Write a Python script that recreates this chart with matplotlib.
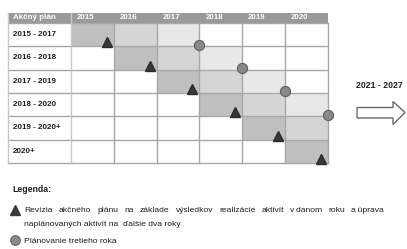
import matplotlib.pyplot as plt
from matplotlib.patches import Rectangle, Polygon

# ------------------------------------------------------------------
# data
# ------------------------------------------------------------------
plans = ["2015 - 2017", "2016 - 2018", "2017 - 2019",
         "2018 - 2020", "2019 - 2020+", "2020+"]
years = ["2015", "2016", "2017", "2018", "2019", "2020"]
# first year covered by each plan (dark cell), then medium and light
plan_start = ["2015", "2016", "2017", "2018", "2019", "2020"]
review_year = ["2015", "2016", "2017", "2018", "2019", "2020"]   # triangle
third_year = ["2017", "2018", "2019", "2020", None, None]        # circle
shades = ["#bfbfbf", "#d5d5d5", "#e8e8e8"]
next_period = "2021 - 2027"

legend_title = "Legenda:"
legend_review = ("Revízia akčného plánu na základe výsledkov realizácie "
                 "aktivít v\u2009danom roku a\u2009úprava")
legend_review2 = "naplánovaných aktivít na  ďalšie dva roky"
legend_third = "Plánovanie tretieho roka"

# ------------------------------------------------------------------
# layout (pixel units)
# ------------------------------------------------------------------
W, H = 407, 249
left, first_w, col_w = 8, 63, 42.8
top, head_h, row_h = 12.5, 10.5, 23.3
grid_c = "#a8a8a8"
head_c = "#999999"
FONT = "Liberation Sans"
TXT = "#1e1e1e"

fig = plt.figure(figsize=(W / 100, H / 100), dpi=100)
ax = fig.add_axes([0, 0, 1, 1])
ax.set_xlim(0, W)
ax.set_ylim(H, 0)
ax.axis("off")


def col_x(i):
    return left + first_w + i * col_w


def row_y(j):
    return top + head_h + j * row_h


right = col_x(len(years))
bottom = row_y(len(plans))

# header
ax.add_patch(Rectangle((left, top), right - left, head_h, fc=head_c, ec="none"))
ax.text(left + 5, top + head_h / 2, "Akčný plán", color="white", fontsize=5.8,
        fontweight="bold", family=FONT, va="center")
for i, y in enumerate(years):
    ax.text(col_x(i) + 6, top + head_h / 2, y, color="white", fontsize=5.7,
            fontweight="bold", family=FONT, va="center")

# shaded cells
for j, p in enumerate(plans):
    s = years.index(plan_start[j])
    for k, c in enumerate(shades):
        if s + k < len(years):
            ax.add_patch(Rectangle((col_x(s + k), row_y(j)), col_w, row_h,
                                   fc=c, ec="none"))
    ax.text(left + 5, row_y(j) + row_h / 2, p, fontsize=5.8, fontweight="bold",
            family=FONT, va="center", color=TXT)

# grid
for j in range(len(plans) + 1):
    ax.plot([left, right], [row_y(j)] * 2, color=grid_c, lw=1.0)
for i in range(len(years) + 1):
    ax.plot([col_x(i)] * 2, [top + head_h if i else top, bottom],
            color=grid_c if i else "#c8c8c8", lw=1.0)
ax.plot([left, left], [top, bottom], color="#c8c8c8", lw=1.0)

# markers
for j in range(len(plans)):
    i = years.index(review_year[j])
    ax.plot(col_x(i + 1) - 7, row_y(j + 1) - 4, marker="^", ms=7.4,
            color="#3a3a3a", mec="#2a2a2a", zorder=5)
    if third_year[j] is not None:
        i = years.index(third_year[j])
        ax.plot(col_x(i + 1), row_y(j + 1) - 1.5, marker="o", ms=7.3,
                color="#8a8a8a", mec="#5e5e5e", mew=0.8, zorder=5)

# next period + hollow arrow
ax.text(379, 85, next_period, fontsize=6.3, fontweight="bold", family=FONT,
        ha="center", va="center", color=TXT)
arrow = [(357, 107.5), (393, 107.5), (393, 101.5), (405, 112.5),
         (393, 124.5), (393, 118), (357, 118)]
ax.add_patch(Polygon(arrow, closed=True, fc="white", ec="#6a6a6a", lw=1.0))

# legend
ax.text(12, 189, legend_title, fontsize=6.3, fontweight="bold", family=FONT,
        va="center", color=TXT)
ax.plot(14.5, 210, marker="^", ms=7.0, color="#3a3a3a")
ax.plot(14.5, 240, marker="o", ms=7.0, color="#8a8a8a", mec="#6a6a6a", mew=0.8)

# justified first legend line
words = legend_review.split(" ")
fig.canvas.draw()
r = fig.canvas.get_renderer()
txts = [ax.text(0, 210, w, fontsize=6.1, family=FONT, va="center",
                color=TXT) for w in words]
widths = [t.get_window_extent(r).width for t in txts]
x0, x1 = 24, 384
gap = (x1 - x0 - sum(widths)) / (len(words) - 1)
x = x0
for t, w in zip(txts, widths):
    t.set_x(x)
    x += w + gap

ax.text(x0, 224, legend_review2, fontsize=6.1, family=FONT, va="center",
        color=TXT)
ax.text(x0, 241, legend_third, fontsize=6.1, family=FONT, va="center",
        color=TXT)

fig.savefig("out.png", dpi=100)
